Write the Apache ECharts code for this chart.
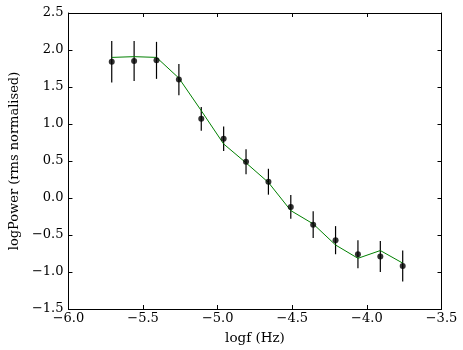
<!DOCTYPE html>
<html>
<head>
<meta charset="utf-8">
<script src="https://cdn.jsdelivr.net/npm/echarts@6/dist/echarts.min.js"></script>
<style>
  html, body { margin: 0; padding: 0; background: #fff; }
  #chart { width: 463px; height: 350px; }
</style>
</head>
<body>
<div id="chart"></div>
<script>
// log frequency of each bin
const logf = [-5.71, -5.56, -5.41, -5.26, -5.11, -4.96, -4.81, -4.66, -4.51, -4.36, -4.21, -4.06, -3.91, -3.76]
// measured log power and its error
const logPower = [1.84, 1.85, 1.86, 1.60, 1.07, 0.80, 0.49, 0.22, -0.12, -0.36, -0.57, -0.76, -0.79, -0.92]
const powerErr = [0.28, 0.27, 0.25, 0.21, 0.16, 0.165, 0.17, 0.175, 0.16, 0.18, 0.19, 0.19, 0.21, 0.21]
// model curve
const modelPower = [1.90, 1.91, 1.90, 1.62, 1.18, 0.73, 0.475, 0.21, -0.17, -0.35, -0.635, -0.815, -0.71, -0.88]

const font = 'DejaVu Serif'

const chart = echarts.init(document.getElementById('chart'))

const fmt = v => (v < 0 ? '\u2212' : '') + Math.abs(v).toFixed(1)

const baseAxis = {
  type: 'value',
  axisLine: { show: true, onZero: false, lineStyle: { color: '#000', width: 1 } },
  axisTick: { show: true, inside: true, length: 4, lineStyle: { color: '#000' } },
  splitLine: { show: false },
  axisLabel: { show: false }
}

chart.setOption({
  animation: false,
  grid: { left: 58.5, right: 21.5, top: 13, bottom: 41 },
  xAxis: [
    Object.assign({}, baseAxis, {
      position: 'bottom', min: -6, max: -3.5, interval: 0.5,
      name: 'logf (Hz)', nameLocation: 'middle', nameGap: 22,
      nameTextStyle: { fontFamily: font, fontSize: 13.5, color: '#000' },
      axisLabel: { show: true, formatter: fmt, fontFamily: font, fontSize: 13, color: '#000', margin: 3 }
    }),
    Object.assign({}, baseAxis, { position: 'top', min: -6, max: -3.5, interval: 0.5 })
  ],
  yAxis: [
    Object.assign({}, baseAxis, {
      position: 'left', min: -1.5, max: 2.5, interval: 0.5,
      name: 'logPower (rms normalised)', nameLocation: 'middle', nameGap: 42,
      nameTextStyle: { fontFamily: font, fontSize: 13, color: '#000' },
      axisLabel: { show: true, formatter: fmt, fontFamily: font, fontSize: 13, color: '#000', margin: 5 }
    }),
    Object.assign({}, baseAxis, { position: 'right', min: -1.5, max: 2.5, interval: 0.5 })
  ],
  series: [
    {
      type: 'custom',
      renderItem: (params, api) => {
        const x = api.value(0)
        const top = api.coord([x, api.value(1) + api.value(2)])
        const bot = api.coord([x, api.value(1) - api.value(2)])
        return {
          type: 'line',
          shape: { x1: top[0], y1: top[1], x2: bot[0], y2: bot[1] },
          style: { stroke: '#000', lineWidth: 1.2 }
        }
      },
      data: logf.map((x, i) => [x, logPower[i], powerErr[i]]),
      z: 2
    },
    {
      type: 'line',
      data: logf.map((x, i) => [x, modelPower[i]]),
      showSymbol: false,
      lineStyle: { color: '#008000', width: 1 },
      z: 3
    },
    {
      type: 'scatter',
      data: logf.map((x, i) => [x, logPower[i]]),
      symbolSize: 6,
      itemStyle: { color: '#000' },
      z: 4
    }
  ]
})
</script>
</body>
</html>
